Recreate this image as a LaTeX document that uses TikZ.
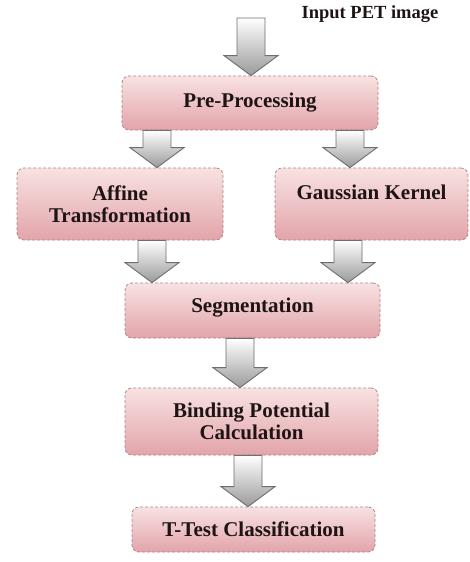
\documentclass[tikz,border=0pt]{standalone}
\usepackage{fontspec}
\setmainfont{Liberation Serif}
\usetikzlibrary{calc}
\definecolor{boxtop}{HTML}{F8E2E2}
\definecolor{boxbot}{HTML}{E2A4AA}
\definecolor{boxline}{HTML}{B08585}
\definecolor{arrline}{HTML}{6E6E6E}
\definecolor{arrbot}{HTML}{9A9A9A}
\definecolor{txt}{HTML}{1E1414}
\tikzset{
  stepbox/.style={rectangle, rounded corners=7pt, draw=boxline, densely dashed, line width=0.8pt,
    top color=boxtop, bottom color=boxbot, font=\fontsize{21}{22}\selectfont\bfseries,
    text=txt, align=center, inner sep=0pt},
  blockarr/.style={draw=arrline, line width=0.9pt, top color=white, bottom color=arrbot, solid, line join=miter}
}
\newcommand\blockarrow[2]{%
  \path[blockarr] let \p1=(#1), \p2=(#2) in
    (\x1-14pt,\y1) -- (\x1-14pt,\y2+20pt) -- (\x1-27pt,\y2+20pt) -- (\x1,\y2) --
    (\x1+27pt,\y2+20pt) -- (\x1+14pt,\y2+20pt) -- (\x1+14pt,\y1) -- cycle;}
\begin{document}
\begin{tikzpicture}[x=1pt,y=1pt]
\useasboundingbox (0,0) rectangle (469,-562);
\node[font=\fontsize{18.5}{20}\selectfont\bfseries, text=txt] (inp) at (370,-14) {Input PET image};
\node[stepbox, minimum width=256pt, minimum height=54pt] (pre) at (250,-103) {Pre-Processing};
\node[stepbox, minimum width=206pt, minimum height=72pt] (aff) at (120,-204) {Affine\\Transformation};
\node[stepbox, minimum width=193pt, minimum height=72pt, text height=15pt, text depth=24pt] (gau) at (371.5,-204) {Gaussian Kernel};
\node[stepbox, minimum width=255pt, minimum height=55pt, text height=15pt, text depth=11pt] (seg) at (252.5,-310.5) {Segmentation};
\node[stepbox, minimum width=253pt, minimum height=67pt] (bin) at (251.5,-421.5) {Binding Potential\\Calculation};
\node[stepbox, minimum width=243pt, minimum height=45pt] (tt) at (253.5,-529.5) {T-Test Classification};
\coordinate (start) at (251,-18);
\blockarrow{start}{pre.north}
\blockarrow{$(pre.south)+(-93,0)$}{$(aff.north)+(36,0)$}
\blockarrow{$(pre.south)+(100,0)$}{gau.north}
\blockarrow{$(aff.south)+(32,0)$}{seg.north}
\blockarrow{$(gau.south)+(-23.5,0)$}{seg.north}
\blockarrow{$(seg.south)+(-12.5,0)$}{bin.north}
\blockarrow{$(bin.south)+(-3.5,0)$}{tt.north}
\end{tikzpicture}
\end{document}
